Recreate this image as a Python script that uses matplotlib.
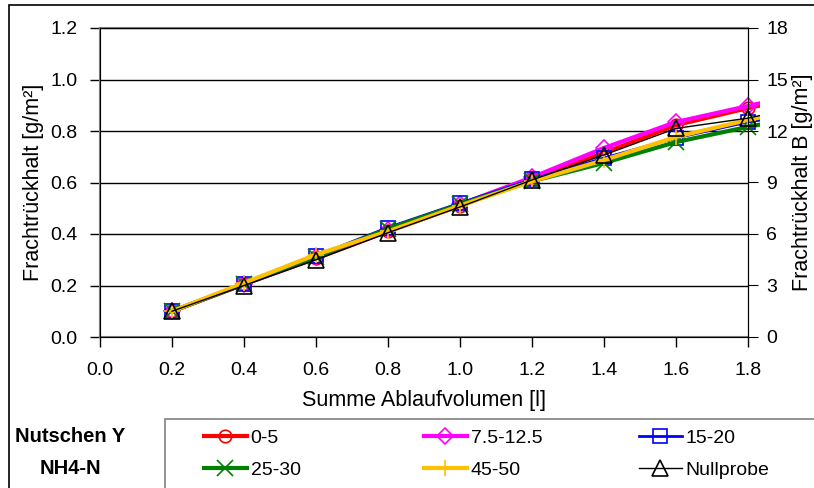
import matplotlib.pyplot as plt
from matplotlib.patches import Rectangle

plt.rcParams['font.family'] = ['Liberation Sans', 'DejaVu Sans']

# data
volume = [0.2, 0.4, 0.6, 0.8, 1.0, 1.2, 1.4, 1.6, 1.8, 2.0]
s_0_5 = [0.10, 0.205, 0.305, 0.41, 0.51, 0.612, 0.715, 0.823, 0.889, 0.95]
s_7_12 = [0.10, 0.205, 0.31, 0.415, 0.515, 0.62, 0.734, 0.835, 0.897, 0.96]
s_15_20 = [0.10, 0.205, 0.315, 0.425, 0.52, 0.612, 0.695, 0.773, 0.835, 0.88]
s_25_30 = [0.10, 0.205, 0.31, 0.42, 0.515, 0.605, 0.676, 0.757, 0.816, 0.87]
s_45_50 = [0.10, 0.21, 0.32, 0.41, 0.51, 0.605, 0.687, 0.777, 0.843, 0.90]
s_null = [0.10, 0.20, 0.30, 0.405, 0.505, 0.61, 0.707, 0.81, 0.85, 0.91]

series = [
    ("0-5", s_0_5, "red", "o", 3.0),
    ("7.5-12.5", s_7_12, "magenta", "D", 3.0),
    ("15-20", s_15_20, "blue", "s", 2.0),
    ("25-30", s_25_30, "green", "x", 3.0),
    ("45-50", s_45_50, "#FFC000", "+", 3.0),
    ("Nullprobe", s_null, "black", "^", 1.0),
]
marker_size = {"o": 9, "D": 8, "s": 10, "x": 11, "+": 11, "^": 11}

fs_tick = 14
fs_label = 15.5

fig = plt.figure(figsize=(8.14, 4.88), dpi=100)
ax = fig.add_axes([100 / 814, 1 - 337 / 488, 648 / 814, 309 / 488])

# lines run a little past the right spine, like the reference
clip = Rectangle((0, 0), 1.019, 1, transform=ax.transAxes, visible=False)
ax.add_patch(clip)

handles = {}
for name, vals, col, mk, lw in series:
    ln, = ax.plot(volume, vals, color=col, lw=lw, marker=mk,
                  ms=marker_size[mk], mfc="none", mec=col, mew=1.2,
                  label=name, zorder=3)
    ln.set_clip_path(clip)
    handles[name] = ln

ax.set_xlim(0, 1.8)
ax.set_ylim(0, 1.2)
ax.set_xticks([0.0, 0.2, 0.4, 0.6, 0.8, 1.0, 1.2, 1.4, 1.6, 1.8])
ax.set_yticks([0.0, 0.2, 0.4, 0.6, 0.8, 1.0, 1.2])
ax.xaxis.set_major_formatter(plt.FormatStrFormatter('%.1f'))
ax.yaxis.set_major_formatter(plt.FormatStrFormatter('%.1f'))
ax.grid(axis='y', color='black', lw=1)
ax.set_axisbelow(True)
ax.tick_params(direction='out', length=7, labelsize=fs_tick, width=1)
ax.tick_params(axis='x', pad=11)
ax.tick_params(axis='y', pad=9)
for side in ('left', 'bottom', 'top'):
    ax.spines[side].set_color('#808080')
    ax.spines[side].set_linewidth(1.5)
ax.spines['right'].set_color('black')
ax.set_xlabel("Summe Ablaufvolumen [l]", fontsize=fs_label, labelpad=8)
ax.set_ylabel("Frachtrückhalt [g/m²]", fontsize=fs_label, labelpad=5)

ax2 = ax.twinx()
ax2.set_ylim(0, 18)
ax2.set_yticks([0, 3, 6, 9, 12, 15, 18])
ax2.tick_params(direction='out', length=7, labelsize=fs_tick, pad=6)
ax2.spines['right'].set_color('black')
ax2.set_ylabel("Frachtrückhalt B [g/m²]", fontsize=fs_label, labelpad=3)

# outer frame and legend box
fig.patches.append(Rectangle((9 / 814, -0.1), 1.1, 1.1 - 5 / 488,
                             transform=fig.transFigure, fill=False,
                             edgecolor='black', lw=1.2))
fig.patches.append(Rectangle((165 / 814, -0.1), 1.0, 0.1 + (488 - 419) / 488,
                             transform=fig.transFigure, fill=False,
                             edgecolor='#808080', lw=1.2))

# legend: three columns placed like the reference
col_pairs = [("0-5", "25-30"), ("7.5-12.5", "45-50"), ("15-20", "Nullprobe")]
col_x = [204, 424, 639]
for x0, pair in zip(col_x, col_pairs):
    fig.legend([handles[n] for n in pair], pair, ncol=1, frameon=False,
               loc='upper left', bbox_to_anchor=(x0 / 814, 1 - 429 / 488),
               fontsize=fs_tick, handlelength=2.2, handletextpad=0.2,
               labelspacing=0.75, borderaxespad=0, borderpad=0)

fig.text(70 / 814, 1 - 437 / 488, "Nutschen Y", fontsize=14.5,
         fontweight='bold', ha='center', va='center')
fig.text(70 / 814, 1 - 468 / 488, "NH4-N", fontsize=14.5,
         fontweight='bold', ha='center', va='center')

fig.savefig("out.png", dpi=100)
